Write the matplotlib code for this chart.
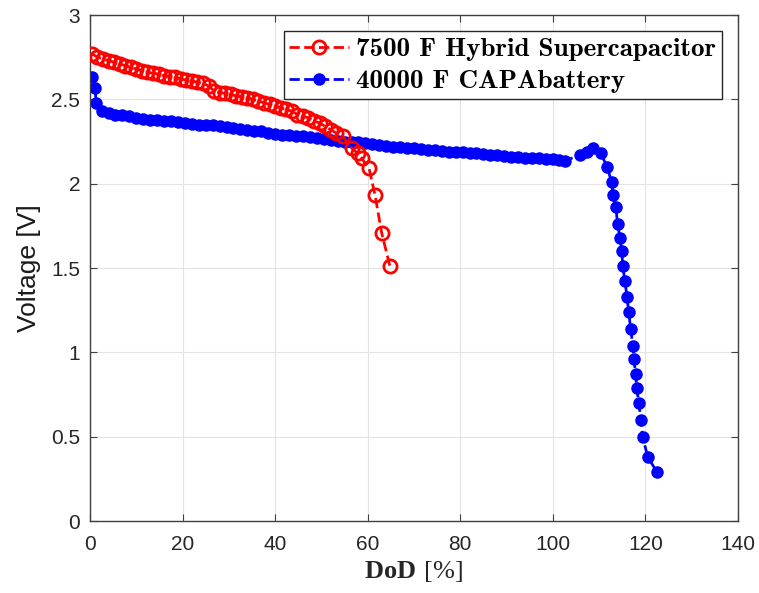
import matplotlib.pyplot as plt

plt.rcParams['axes.unicode_minus'] = False
plt.rcParams['mathtext.fontset'] = 'custom'
plt.rcParams['mathtext.rm'] = 'Liberation Serif'
plt.rcParams['mathtext.bf'] = 'Liberation Serif:bold'

# 7500 F hybrid supercapacitor
red_x = [0.4, 1.6, 2.8, 4.0, 5.2, 6.4, 7.6, 8.8, 10.0, 11.2, 12.4, 13.6, 14.8, 16.0,
         17.2, 18.4, 19.6, 20.8, 22.0, 23.2, 24.4, 25.6, 26.8, 28.0, 29.2, 30.4, 31.6,
         32.8, 34.0, 35.2, 36.4, 37.6, 38.8, 40.0, 41.2, 42.4, 43.6, 44.8, 46.0, 47.2,
         48.4, 49.6, 50.8, 52.0, 53.2, 54.6, 56.6, 57.8, 58.7, 60.3, 61.6, 63.0, 64.8]
red_y = [2.77, 2.75, 2.74, 2.73, 2.72, 2.71, 2.70, 2.69, 2.68, 2.67, 2.66, 2.655, 2.65,
         2.64, 2.635, 2.63, 2.62, 2.615, 2.61, 2.60, 2.595, 2.58, 2.55, 2.54, 2.535, 2.53,
         2.52, 2.515, 2.51, 2.50, 2.49, 2.48, 2.47, 2.46, 2.45, 2.44, 2.43, 2.41, 2.40,
         2.39, 2.37, 2.36, 2.34, 2.32, 2.30, 2.28, 2.21, 2.18, 2.15, 2.09, 1.93, 1.71, 1.51]

# 40000 F CAPAbattery
blue_x = [0.4, 1.1, 1.3, 2.6, 4.0, 5.5, 7.0, 8.5, 10.0, 11.5, 13.0, 14.5, 16.0, 17.5,
          19.0, 20.5, 22.0, 23.5, 25.0, 26.5, 28.0, 29.5, 31.0, 32.5, 34.0, 35.5, 37.0,
          38.5, 40.0, 41.5, 43.0, 44.5, 46.0, 47.5, 49.0, 50.5, 52.0, 53.5, 55.0, 56.5,
          58.0, 59.5, 61.0, 62.5, 64.0, 65.5, 67.0, 68.5, 70.0, 71.5, 73.0, 74.5, 76.0,
          77.5, 79.0, 80.5, 82.0, 83.5, 85.0, 86.5, 88.0, 89.5, 91.0, 92.5, 94.0, 95.5,
          97.0, 98.5, 100.0, 101.3, 102.6, 105.8, 107.3, 108.6, 110.4, 111.7, 112.7,
          113.0, 113.6, 114.0, 114.5, 114.9, 115.1, 115.6, 116.0, 116.4, 116.8, 117.3,
          117.5, 117.9, 118.1, 118.6, 119.0, 119.4, 120.5, 122.5]
blue_y = [2.63, 2.57, 2.48, 2.43, 2.42, 2.41, 2.41, 2.40, 2.39, 2.385, 2.38, 2.375, 2.37,
          2.37, 2.365, 2.36, 2.355, 2.35, 2.35, 2.345, 2.34, 2.335, 2.33, 2.325, 2.32,
          2.315, 2.31, 2.30, 2.295, 2.29, 2.29, 2.285, 2.28, 2.275, 2.27, 2.265, 2.26,
          2.255, 2.25, 2.25, 2.245, 2.24, 2.235, 2.23, 2.225, 2.22, 2.215, 2.21, 2.21,
          2.205, 2.20, 2.20, 2.195, 2.19, 2.19, 2.185, 2.18, 2.18, 2.175, 2.17, 2.17,
          2.165, 2.16, 2.16, 2.155, 2.15, 2.15, 2.145, 2.145, 2.14, 2.135, 2.17, 2.19,
          2.21, 2.18, 2.10, 2.01, 1.93, 1.86, 1.76, 1.68, 1.60, 1.51, 1.42, 1.33, 1.24,
          1.14, 1.04, 0.96, 0.87, 0.79, 0.70, 0.60, 0.50, 0.38, 0.29]

xticks = [0, 20, 40, 60, 80, 100, 120, 140]
yticks = [0, 0.5, 1, 1.5, 2, 2.5, 3]

fig = plt.figure(figsize=(7.59, 5.93), dpi=100)
ax = fig.add_axes([0.1186, 0.1214, 0.8537, 0.8533])

ax.plot(red_x, red_y, '--o', color='red', mfc='none', mec='red', ms=9.5, mew=2,
        lw=2, label='7500 F Hybrid Supercapacitor', zorder=3)
ax.plot(blue_x, blue_y, '--o', color='blue', mfc='blue', mec='blue', ms=8,
        lw=2, label='40000 F CAPAbattery', zorder=2)

ax.set_xlim(0, 140)
ax.set_ylim(0, 3)
ax.set_xticks(xticks)
ax.set_yticks(yticks)
ax.set_yticklabels(['0', '0.5', '1', '1.5', '2', '2.5', '3'])
ax.grid(True, color='#e3e3e3', lw=0.8)
ax.set_axisbelow(True)
for s in ax.spines.values():
    s.set_color('#404040')
    s.set_linewidth(1)
ax.tick_params(direction='in', top=True, right=True, length=5, color='#404040',
               labelsize=15, labelcolor='#262626')
ax.tick_params(axis='x', pad=10)
ax.tick_params(axis='y', pad=7)
for lab in ax.get_xticklabels() + ax.get_yticklabels():
    lab.set_family('Liberation Sans')

ax.set_xlabel(r'$\mathbf{DoD}\ [\%]$', fontsize=19, color='#262626', labelpad=3)
ax.set_ylabel('Voltage [V]', fontsize=19, family='Liberation Sans', color='#1a1a1a',
              labelpad=7)

leg = ax.legend(loc='upper right', prop={'family': 'cmb10', 'size': 19.5},
                fancybox=False, framealpha=1, edgecolor='#262626', borderpad=0.22,
                handlelength=2.2, handletextpad=0.25, borderaxespad=0,
                bbox_to_anchor=(0.975, 0.968), labelspacing=0.3)
leg.get_frame().set_linewidth(1)

fig.savefig('out.png', dpi=100)
